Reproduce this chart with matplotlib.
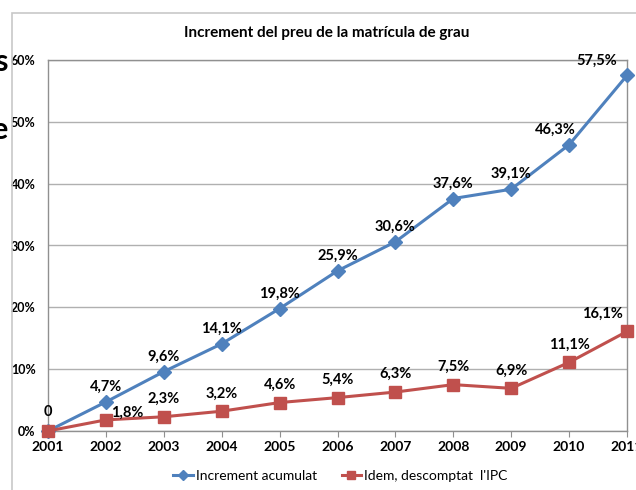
import matplotlib
matplotlib.use('Agg')
from matplotlib import pyplot as plt
from matplotlib.patches import Rectangle

plt.rcParams['font.family'] = ['Lato', 'DejaVu Sans']

years = ['2001', '2002', '2003', '2004', '2005', '2006', '2007', '2008', '2009', '2010', '2011']
acumulat = [0, 4.7, 9.6, 14.1, 19.8, 25.9, 30.6, 37.6, 39.1, 46.3, 57.5]
descomptat = [0, 1.8, 2.3, 3.2, 4.6, 5.4, 6.3, 7.5, 6.9, 11.1, 16.1]
y_ticks = [0, 10, 20, 30, 40, 50, 60]

blue = '#4F81BD'
red = '#C0504D'

fig = plt.figure(figsize=(6.36, 4.9), dpi=100)
ax = fig.add_axes([48 / 636, 1 - 431 / 490, 579 / 636, 371 / 490])

# outer chart frame
fig.patches.append(Rectangle((12 / 636, -0.1), 1.0, 1 - 13 / 490 + 0.1, transform=fig.transFigure,
                             fill=False, edgecolor='#c8c8c8', linewidth=1.2))

x = list(range(len(years)))
ax.plot(x, acumulat, color=blue, linewidth=2.2, marker='D', markersize=7,
        label='Increment acumulat', zorder=3, clip_on=False)
ax.plot(x, descomptat, color=red, linewidth=2.2, marker='s', markersize=8,
        label="Idem, descomptat  l'IPC", zorder=3, clip_on=False)

def fmt(v):
    return ('%.1f%%' % v).replace('.', ',')

ax.annotate('0', (0, 0), xytext=(0, 11), textcoords='offset points', ha='center',
            fontsize=10.5, fontweight='bold')
for i in range(1, len(years)):
    dx = 0
    if i == 9:
        dx = -10
    if i == 10:
        dx = -22
    ax.annotate(fmt(acumulat[i]), (i, acumulat[i]), xytext=(dx, 8), textcoords='offset points',
                ha='center', fontsize=10.5, fontweight='bold')
    if i == 1:
        ax.annotate(fmt(descomptat[i]), (i, descomptat[i]), xytext=(4, 2), textcoords='offset points',
                    ha='left', fontsize=10.5, fontweight='bold')
    else:
        dx = -18 if i == 10 else 0
        ax.annotate(fmt(descomptat[i]), (i, descomptat[i]), xytext=(dx, 10), textcoords='offset points',
                    ha='center', fontsize=10.5, fontweight='bold')

ax.set_xlim(0, len(years) - 1)
ax.set_ylim(0, 60)
ax.set_xticks(x)
ax.set_xticklabels(years, fontsize=10, fontweight='bold')
ax.set_yticks(y_ticks)
ax.set_yticklabels(['%d%%' % t for t in y_ticks], fontsize=9, fontweight='bold')
ax.tick_params(axis='x', length=4, color='#909090', pad=3)
ax.tick_params(axis='y', length=0, pad=9)
ax.grid(axis='y', color='#b0b0b0', linewidth=1)
ax.set_axisbelow(True)
for s in ax.spines.values():
    s.set_color('#909090')
    s.set_linewidth(1)

fig.text(327 / 636, 1 - 33 / 490, 'Increment del preu de la matrícula de grau', ha='center', va='center',
         fontsize=11, fontweight='bold')

# fragments of neighbouring text at the left edge
fig.text(8 / 636, 1 - 62 / 490, 's', fontsize=22, fontweight='bold', va='center', ha='right')
fig.text(8 / 636, 1 - 130 / 490, 'e', fontsize=22, fontweight='bold', va='center', ha='right')

ax.legend(loc='center', bbox_to_anchor=(0.505, -0.121), ncol=2, frameon=False, fontsize=10,
          handlelength=1.4, handletextpad=0.2, columnspacing=1.8, markerscale=0.8)

plt.savefig('out.png', dpi=100)
